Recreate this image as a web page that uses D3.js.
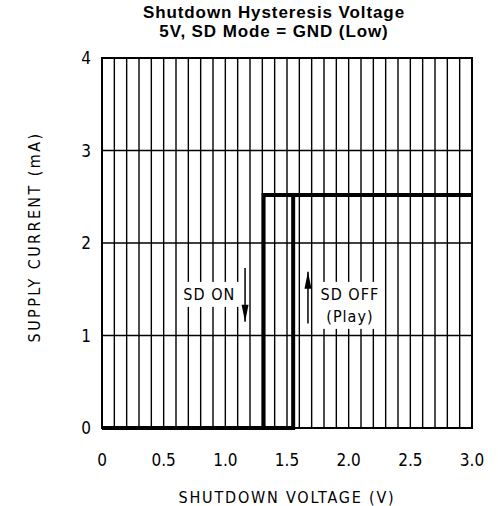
<!DOCTYPE html>
<html>
<head>
<meta charset="utf-8">
<script src="https://cdn.jsdelivr.net/npm/d3@7"></script>
<style>
  body { margin: 0; background: #fff; }
  .tick-label, .axis-title, .note { font-family: "DejaVu Sans Condensed", "DejaVu Sans", sans-serif; fill: #000; }
</style>
</head>
<body>
<div id="chart"></div>
<script>
const TITLE = ["Shutdown Hysteresis Voltage", "5V, SD Mode = GND (Low)"];
const X_TICKS = [0, 0.5, 1.0, 1.5, 2.0, 2.5, 3.0];
const X_TICK_LABELS = ["0", "0.5", "1.0", "1.5", "2.0", "2.5", "3.0"];
const Y_TICKS = [0, 1, 2, 3, 4];

// SD ON: sweeping down
const SD_ON_V = [3.0, 1.31, 1.31, 0];
const SD_ON_I = [2.52, 2.52, 0, 0];
// SD OFF (Play): sweeping up
const SD_OFF_V = [0, 1.55, 1.55, 3.0];
const SD_OFF_I = [0, 0, 2.52, 2.52];

const WIDTH = 498;
const HEIGHT = 506;
const margin = { top: 58, right: 26, bottom: 78, left: 102 };

const x = d3.scaleLinear().domain([0, 3]).range([margin.left, WIDTH - margin.right]);
const y = d3.scaleLinear().domain([0, 4]).range([HEIGHT - margin.bottom, margin.top]);

const svg = d3.select("#chart").append("svg")
    .attr("width", WIDTH)
    .attr("height", HEIGHT);

// title
svg.append("g").selectAll("text")
  .data(TITLE)
  .enter().append("text")
    .attr("x", 274)
    .attr("y", (d, i) => 18 + i * 19)
    .attr("text-anchor", "middle")
    .style("font-family", "'Liberation Sans', Arial, sans-serif")
    .style("font-weight", "bold")
    .style("font-size", "17px")
    .style("letter-spacing", "0.9px")
    .text(d => d);

// grid
const grid = svg.append("g");
grid.selectAll("line.v")
  .data(d3.range(1, 30).map(i => i / 10))
  .enter().append("line")
    .attr("x1", d => x(d)).attr("x2", d => x(d))
    .attr("y1", y(4)).attr("y2", y(0))
    .attr("stroke", "#000")
    .attr("stroke-width", 1.4);

grid.selectAll("line.h")
  .data([1, 2, 3])
  .enter().append("line")
    .attr("x1", x(0)).attr("x2", x(3))
    .attr("y1", d => y(d)).attr("y2", d => y(d))
    .attr("stroke", "#000")
    .attr("stroke-width", 1.4);

svg.append("rect")
    .attr("x", x(0)).attr("y", y(4))
    .attr("width", x(3) - x(0)).attr("height", y(0) - y(4))
    .attr("fill", "none")
    .attr("stroke", "#000")
    .attr("stroke-width", 2);

// tick labels
svg.append("g").selectAll("text")
  .data(X_TICKS)
  .enter().append("text")
    .attr("class", "tick-label")
    .attr("x", d => x(d))
    .attr("y", HEIGHT - margin.bottom + 38)
    .attr("text-anchor", "middle")
    .style("font-size", "17px")
    .text((d, i) => X_TICK_LABELS[i]);

svg.append("g").selectAll("text")
  .data(Y_TICKS)
  .enter().append("text")
    .attr("class", "tick-label")
    .attr("x", margin.left - 11)
    .attr("y", d => y(d) + 6)
    .attr("text-anchor", "end")
    .style("font-size", "17px")
    .text(d => d);

// axis titles
svg.append("text")
    .attr("class", "axis-title")
    .attr("x", (x(0) + x(3)) / 2)
    .attr("y", 503)
    .attr("text-anchor", "middle")
    .style("font-size", "16px")
    .style("letter-spacing", "1.8px")
    .text("SHUTDOWN VOLTAGE (V)");

svg.append("text")
    .attr("class", "axis-title")
    .attr("transform", `translate(40,${(y(0) + y(4)) / 2 - 6}) rotate(-90)`)
    .attr("text-anchor", "middle")
    .style("font-size", "16px")
    .style("letter-spacing", "2.4px")
    .text("SUPPLY CURRENT (mA)");

// curves
const line = d3.line().x(d => x(d[0])).y(d => y(d[1]));
[[SD_ON_V, SD_ON_I], [SD_OFF_V, SD_OFF_I]].forEach(([vs, is]) => {
  svg.append("path")
      .datum(vs.map((v, i) => [v, is[i]]))
      .attr("d", line)
      .attr("fill", "none")
      .attr("stroke", "#000")
      .attr("stroke-width", 4)
      .attr("stroke-linejoin", "miter");
});

// annotations with white backgrounds
function note(lines, cx, cy) {
  const g = svg.append("g");
  g.selectAll("text")
    .data(lines)
    .enter().append("text")
      .attr("class", "note")
      .attr("x", cx)
      .attr("y", (d, i) => cy + i * 22)
      .attr("text-anchor", "middle")
      .style("font-size", "16px")
      .style("letter-spacing", "1px")
      .text(d => d);
  const bb = g.node().getBBox();
  g.insert("rect", "text")
      .attr("x", bb.x - 4).attr("y", bb.y - 3)
      .attr("width", bb.width + 8).attr("height", bb.height + 6)
      .attr("fill", "#fff");
}
note(["SD ON"], x(0.87), y(1.45) + 6);
note(["SD OFF", "(Play)"], x(2.01), y(1.45) + 6);

// arrows
function arrow(xv, y1, y2) {
  svg.append("line")
      .attr("x1", x(xv)).attr("x2", x(xv))
      .attr("y1", y(y1)).attr("y2", y(y2))
      .attr("stroke", "#000")
      .attr("stroke-width", 1.5);
  const dir = y2 < y1 ? -1 : 1;
  const tip = y(y2);
  svg.append("path")
      .attr("d", `M${x(xv)},${tip} L${x(xv) - 3.5},${tip + dir * 17} L${x(xv) + 3.5},${tip + dir * 17} Z`)
      .attr("fill", "#000");
}
arrow(1.16, 1.73, 1.15);
arrow(1.67, 1.13, 1.69);
</script>
</body>
</html>
